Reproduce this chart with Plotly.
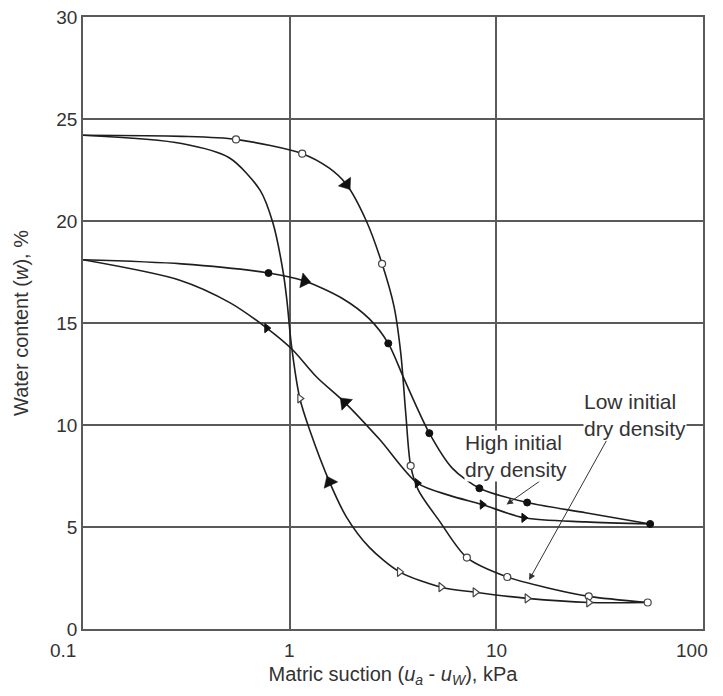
import math
import plotly.graph_objects as go

# ---------------- data ----------------
# Low initial dry density: drying path (curve) and measured points (open circles)
low_dry_curve_x = [0.1, 0.3, 0.55, 1.15, 1.55, 1.88, 2.35, 2.8, 3.2, 3.45, 3.65, 3.85, 4.2, 5.3, 7.2, 11.3, 18, 28, 54]
low_dry_curve_y = [24.2, 24.15, 24.0, 23.3, 22.6, 21.8, 20.0, 17.9, 15.8, 13.5, 10.5, 8.0, 6.8, 5.3, 3.5, 2.55, 2.0, 1.6, 1.3]
low_dry_pts_x = [0.55, 1.15, 2.8, 3.85, 7.2, 11.3, 28, 54]
low_dry_pts_y = [24.0, 23.3, 17.9, 8.0, 3.5, 2.55, 1.6, 1.3]

# Low initial dry density: wetting path (curve) and measured points (open triangles)
low_wet_curve_x = [0.1, 0.3, 0.51, 0.72, 0.83, 0.93, 0.97, 1.02, 1.12, 1.25, 1.56, 1.88, 2.43, 3.4, 5.4, 7.9, 14.1, 28, 54]
low_wet_curve_y = [24.2, 23.8, 23.1, 21.5, 19.9, 17.5, 16.1, 13.9, 11.3, 9.75, 7.2, 5.5, 4.0, 2.8, 2.05, 1.8, 1.5, 1.3, 1.3]
low_wet_pts_x = [1.12, 3.4, 5.4, 7.9, 14.1, 28]
low_wet_pts_y = [11.3, 2.8, 2.05, 1.8, 1.5, 1.3]

# High initial dry density: drying path (curve) and measured points (filled circles)
high_dry_curve_x = [0.1, 0.3, 0.79, 1.18, 1.8, 2.43, 3.0, 3.6, 4.74, 6.1, 8.28, 14.1, 27, 55.5]
high_dry_curve_y = [18.1, 17.9, 17.45, 17.06, 16.2, 15.2, 14.0, 12.2, 9.6, 7.9, 6.9, 6.2, 5.7, 5.15]
high_dry_pts_x = [0.79, 3.0, 4.74, 8.28, 14.1, 55.5]
high_dry_pts_y = [17.45, 14.0, 9.6, 6.9, 6.2, 5.15]

# High initial dry density: wetting path (curve) and measured points (filled triangles)
high_wet_curve_x = [0.1, 0.294, 0.513, 0.775, 1.03, 1.35, 1.85, 2.72, 4.15, 5.93, 8.55, 13.6, 27, 55.5]
high_wet_curve_y = [18.1, 17.1, 16.0, 14.75, 13.7, 12.35, 11.1, 9.3, 7.15, 6.55, 6.1, 5.45, 5.25, 5.15]
high_wet_pts_x = [0.775, 4.15, 8.55, 13.6]
high_wet_pts_y = [14.75, 7.15, 6.1, 5.45]

# direction arrows drawn on the curves (rotation in degrees, clockwise from "pointing right")
arrow_x = [1.88, 1.18, 1.85, 1.56]
arrow_y = [21.8, 17.06, 11.1, 7.2]
arrow_angle = [55, 12, 225, 245]

# labels with their pointers (text position, pointer head, pointer tail) in data units
label_texts = ["High initial<br>dry density", "Low initial<br>dry density"]
label_x = [12.5, 46.9]
label_y = [8.5, 10.5]
pointer_head_x = [11.2, 14.4]
pointer_head_y = [6.1, 2.4]
pointer_tail_x = [16.5, 34.4]
pointer_tail_y = [7.3, 9.3]

x_ticks = [0.1, 1, 10, 100]
x_tick_labels = ["0.1", "1", "10", "100"]
# end labels sit slightly left of their gridlines in the original (pixel nudge)
x_tick_nudge = [-20, 0, 0, -11]
y_ticks = [0, 5, 10, 15, 20, 25, 30]

# ---------------- figure ----------------
LINE = "#1e1e1e"
GRID = "#5a5a5a"
TXT = "#333333"
FONT = "Liberation Sans, Arial, sans-serif"

fig = go.Figure()

for cx, cy in [(low_dry_curve_x, low_dry_curve_y), (low_wet_curve_x, low_wet_curve_y),
               (high_dry_curve_x, high_dry_curve_y), (high_wet_curve_x, high_wet_curve_y)]:
    fig.add_trace(go.Scatter(x=cx, y=cy, mode="lines",
                             line=dict(color=LINE, width=1.6, shape="spline", smoothing=0.8),
                             hoverinfo="skip", showlegend=False))

fig.add_trace(go.Scatter(x=low_dry_pts_x, y=low_dry_pts_y, mode="markers", showlegend=False,
                         marker=dict(symbol="circle", size=7, color="white",
                                     line=dict(color="#444", width=1.2))))
fig.add_trace(go.Scatter(x=low_wet_pts_x, y=low_wet_pts_y, mode="markers", showlegend=False,
                         marker=dict(symbol="triangle-right", size=8, color="white",
                                     line=dict(color="#444", width=1.2))))
fig.add_trace(go.Scatter(x=high_dry_pts_x, y=high_dry_pts_y, mode="markers", showlegend=False,
                         marker=dict(symbol="circle", size=7, color="#111",
                                     line=dict(color="#111", width=1))))
fig.add_trace(go.Scatter(x=high_wet_pts_x, y=high_wet_pts_y, mode="markers", showlegend=False,
                         marker=dict(symbol="triangle-right", size=8, color="#111",
                                     line=dict(color="#111", width=1))))
fig.add_trace(go.Scatter(x=arrow_x, y=arrow_y, mode="markers", showlegend=False,
                         marker=dict(symbol="triangle-right", size=13, color="#111",
                                     angle=arrow_angle, line=dict(color="#111", width=0.5))))

# annotations (log axis -> positions in log10 units)
for t, lx, ly, hx, hy, tx, ty in zip(label_texts, label_x, label_y, pointer_head_x, pointer_head_y,
                                     pointer_tail_x, pointer_tail_y):
    fig.add_annotation(x=math.log10(hx), y=hy, xref="x", yref="y", text="",
                       showarrow=True, axref="x", ayref="y", ax=math.log10(tx), ay=ty,
                       arrowhead=2, arrowsize=1.3, arrowwidth=1, arrowcolor="#333")
    fig.add_annotation(x=math.log10(lx), y=ly, xref="x", yref="y", text=t,
                       showarrow=False, bgcolor="white", borderpad=0, align="left",
                       font=dict(family=FONT, size=21, color=TXT))

# x tick labels placed on the log axis positions, with small nudges as in the original
for v, lab, dx in zip(x_ticks, x_tick_labels, x_tick_nudge):
    fig.add_annotation(x=math.log10(v), y=0, xref="x", yref="y", text=lab, showarrow=False,
                       yanchor="top", yshift=-9, xshift=dx,
                       font=dict(family=FONT, size=19, color=TXT))

fig.update_xaxes(type="log", range=[-1, 2], tickvals=x_ticks, showticklabels=False,
                 showgrid=True, gridcolor=GRID, gridwidth=1.5,
                 showline=True, linecolor=GRID, linewidth=1.5, mirror=True,
                 ticks="", zeroline=False, automargin=False,
                 title=dict(text="Matric suction (<i>u</i><sub><i>a</i></sub> - <i>u</i><sub><i>W</i></sub>), kPa",
                            font=dict(family=FONT, size=20, color=TXT), standoff=41))
fig.update_yaxes(range=[0, 30], tickvals=y_ticks,
                 showgrid=True, gridcolor=GRID, gridwidth=1.5,
                 showline=True, linecolor=GRID, linewidth=1.5, mirror=True,
                 ticks="", zeroline=False, automargin=False, ticklabeloverflow="allow",
                 tickfont=dict(family=FONT, size=19, color=TXT),
                 title=dict(text="Water content (<i>w</i>), %",
                            font=dict(family=FONT, size=20, color=TXT), standoff=22))

fig.update_layout(width=707, height=680, plot_bgcolor="white", paper_bgcolor="white",
                  margin=dict(l=75, r=12, t=9, b=59), showlegend=False)

fig.write_html("out.html")
